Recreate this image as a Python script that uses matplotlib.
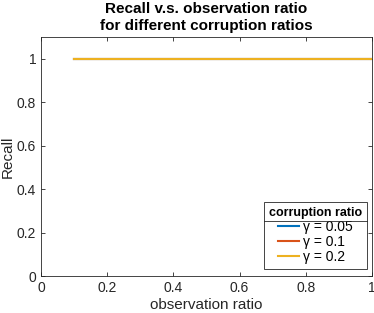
import matplotlib
matplotlib.use("Agg")
import matplotlib.pyplot as plt
from matplotlib.lines import Line2D

plt.rcParams["font.family"] = ["Liberation Sans", "DejaVu Sans"]

obs_ratio = [0.1, 0.2, 0.3, 0.4, 0.5, 0.6, 0.7, 0.8, 0.9, 1.0]
recall_005 = [1, 1, 1, 1, 1, 1, 1, 1, 1, 1]
recall_01 = [1, 1, 1, 1, 1, 1, 1, 1, 1, 1]
recall_02 = [1, 1, 1, 1, 1, 1, 1, 1, 1, 1]
labels = ["\u03b3 = 0.05", "\u03b3 = 0.1", "\u03b3 = 0.2"]
colors = ["#0072BD", "#D95319", "#EDB120"]

fig = plt.figure(figsize=(3.74, 3.13), dpi=100)
ax = fig.add_axes([0.1096, 0.1182, 0.885, 0.7636])

for ys, lab, c in zip([recall_005, recall_01, recall_02], labels, colors):
    ax.plot(obs_ratio, ys, color=c, linewidth=1.5, label=lab)

ax.set_xlim(0, 1)
ax.set_ylim(0, 1.1)
ax.set_xticks([0, 0.2, 0.4, 0.6, 0.8, 1])
ax.set_xticklabels(["0", "0.2", "0.4", "0.6", "0.8", "1"])
ax.set_yticks([0, 0.2, 0.4, 0.6, 0.8, 1])
ax.set_yticklabels(["0", "0.2", "0.4", "0.6", "0.8", "1"])
ax.tick_params(direction="in", length=3, width=0.6, colors="#262626",
               labelsize=10, top=True, right=True)
for s in ax.spines.values():
    s.set_linewidth(0.6)
    s.set_color("#262626")

ax.set_xlabel("observation ratio", fontsize=11, color="#262626", labelpad=2)
ax.set_ylabel("Recall", fontsize=11, color="#262626")
ax.yaxis.set_label_coords(-0.08, 0.5)
ax.set_title("Recall v.s. observation ratio\nfor different corruption ratios",
             fontsize=11, fontweight="bold", color="black", pad=5, linespacing=1.3)

leg = ax.legend(loc="lower right", bbox_to_anchor=(0.985, 0.029),
                title="corruption ratio", fontsize=10,
                title_fontproperties={"weight": "bold", "size": 9},
                fancybox=False, edgecolor="#262626", framealpha=1,
                handlelength=1.5, handletextpad=0.3, borderpad=0.35,
                labelspacing=0.08, borderaxespad=0)
leg.get_frame().set_linewidth(0.6)
leg._legend_box.align = "center"

# separator line under the legend title, as in MATLAB
fig.canvas.draw()
r = fig.canvas.get_renderer()
lb = leg.get_window_extent(r)
tb = leg.get_title().get_window_extent(r)
y = (tb.y0 - 2) / fig.bbox.height
fig.add_artist(Line2D([lb.x0 / fig.bbox.width, lb.x1 / fig.bbox.width], [y, y],
                      color="#262626", linewidth=0.6))

fig.savefig("out.png", dpi=100)
